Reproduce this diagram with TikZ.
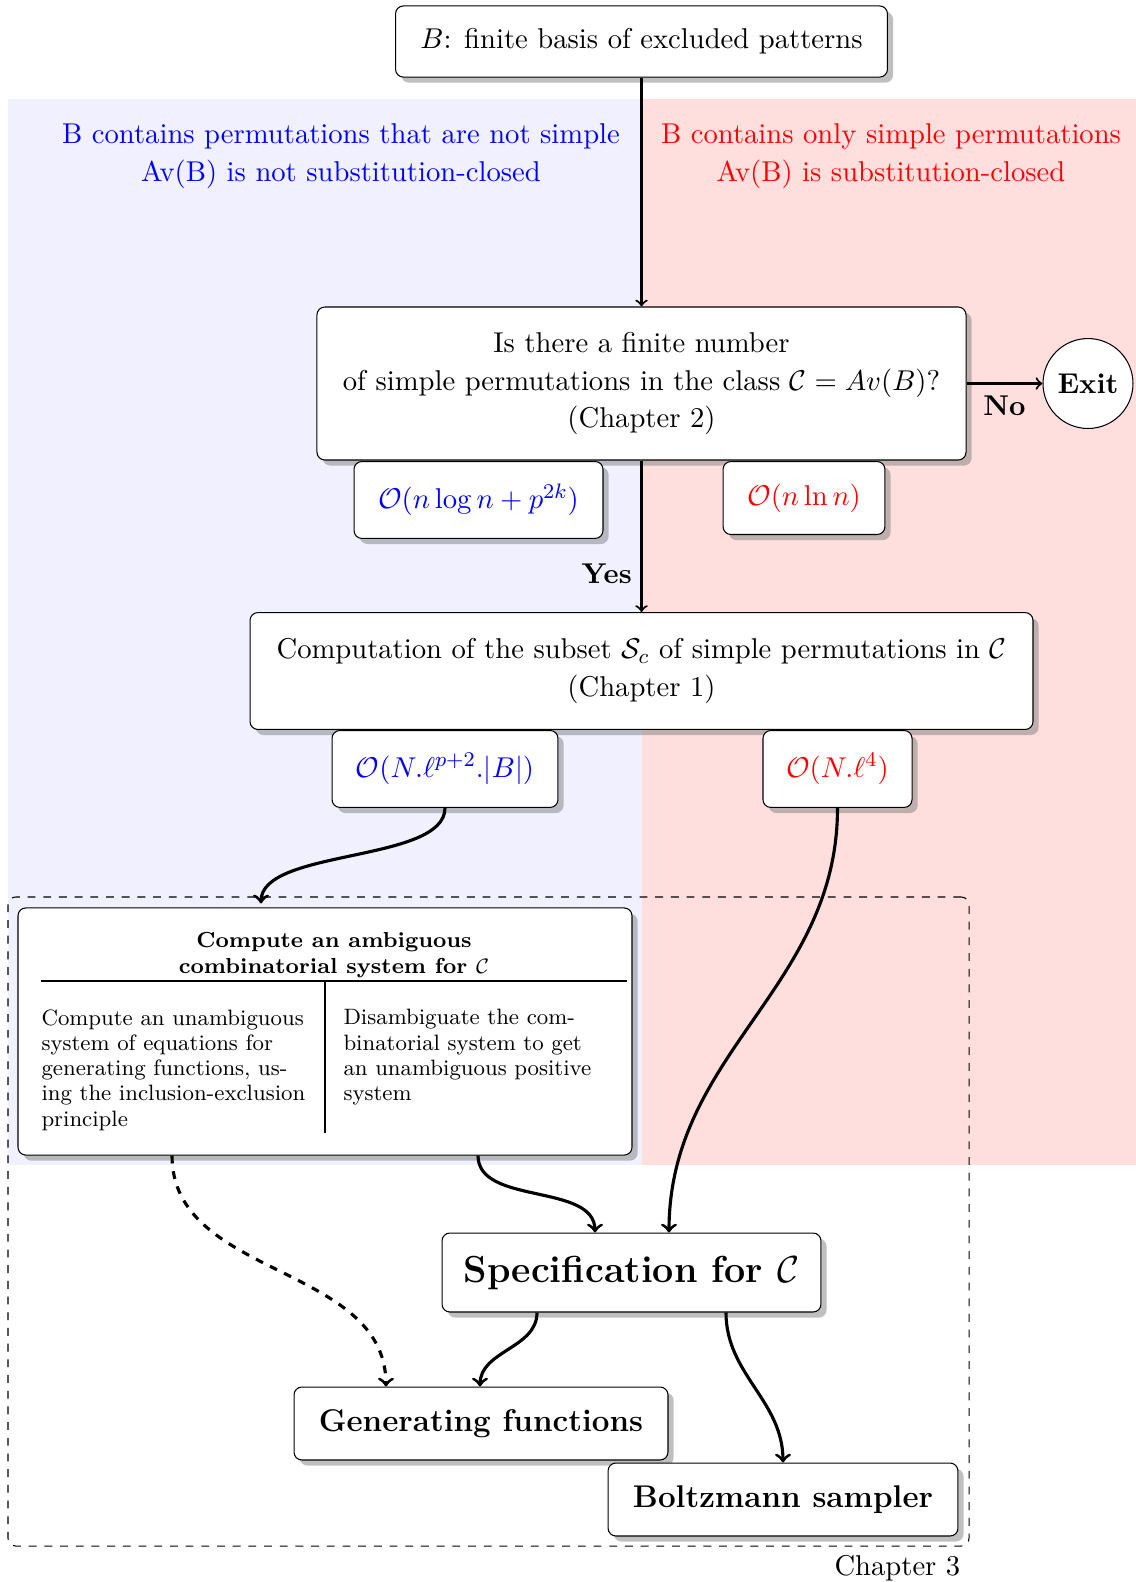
\documentclass[tikz,border=0pt]{standalone}
\usetikzlibrary{shadows,calc}
\begin{document}
\begin{tikzpicture}[x=0.3824pt,y=-0.3824pt,
  every node/.style={font=\fontsize{10.95}{14.3}\selectfont},
  box/.style={draw, fill=white, rounded corners=3pt, drop shadow, inner sep=0pt, align=center},
  arr/.style={->, thick},
  carr/.style={->, very thick},
  body/.style={font=\fontsize{8.5}{9.65}\selectfont, align=left, anchor=north west, inner sep=0pt},
  lbl/.style={font=\fontsize{10.95}{14.3}\selectfont\bfseries}]
\useasboundingbox (0,0) rectangle (1136,1582);
% backgrounds
\fill[blue!6] (8,99) rectangle (642,1165);
\fill[red!13] (642,99) rectangle (1136,1165);
% chapter 3 frame
\node[draw, dashed, rounded corners=3pt, minimum width=367.5pt, minimum height=248.2pt, inner sep=0pt] (frame) at (488.5,1221.5) {};
\node[anchor=north east] (ch3) at (frame.south east) {Chapter 3};
% header texts
\node[text=blue, align=center] (hb) at (341,156) {B contains permutations that are not simple\\Av(B) is not substitution-closed};
\node[text=red, align=center] (hr) at (891,156) {B contains only simple permutations\\Av(B) is substitution-closed};
% boxes
\node[box, minimum width=188.1pt, minimum height=27.2pt] (top) at (641.5,41.5) {$B$: finite basis of excluded patterns};
\node[box, minimum width=248.2pt, minimum height=58.5pt] (q) at (641.5,383.5) {Is there a finite number\\of simple permutations in the class $\mathcal{C}=Av(B)$?\\(Chapter 2)};
\node[draw, circle, fill=white, minimum size=34.4pt, inner sep=0pt, lbl] (exit) at (1088,383.5) {Exit};
\node[box, anchor=north, minimum width=95.2pt, minimum height=29.4pt, text=blue] (obl) at (478.5,461) {$\mathcal{O}(n\log n+p^{2k})$};
\node[box, anchor=north, minimum width=61.9pt, minimum height=27.9pt, text=red] (ored) at (804,461) {$\mathcal{O}(n\ln n)$};
\node[box, minimum width=299.4pt, minimum height=44.7pt] (comp) at (641.5,671) {Computation of the subset $\mathcal{S}_c$ of simple permutations in $\mathcal{C}$\\(Chapter 1)};
\node[box, anchor=north, minimum width=86.4pt, minimum height=29.4pt, text=blue] (obl2) at (445,730) {$\mathcal{O}(N.\ell^{p+2}.|B|)$};
\node[box, anchor=north, minimum width=57.0pt, minimum height=29.4pt, text=red] (ored2) at (837.5,730) {$\mathcal{O}(N.\ell^{4})$};
% big box
\node[box, minimum width=234.8pt, minimum height=94.5pt] (big) at (325,1031.5) {};
\node[font=\fontsize{8.3}{10.2}\selectfont\bfseries, align=center] (bigt) at (334,955) {Compute an ambiguous\\combinatorial system for $\mathcal{C}$};
\draw (41,981) -- (627,981);
\draw (325,981) -- (325,1133);
\node[body] (bigl) at (41,1009) {Compute an unambiguous\\system of equations for\\generating functions, us-\\ing the inclusion-exclusion\\principle};
\node[body] (bigr) at (343,1009) {Disambiguate the com-\\binatorial system to get\\an unambiguous positive\\system};
% lower boxes
\node[box, minimum width=144.9pt, minimum height=30.2pt, font=\fontsize{14.4}{17}\selectfont\bfseries] (spec) at (631.5,1272.5) {Specification for $\mathcal{C}$};
\node[box, minimum width=143.0pt, minimum height=27.9pt, font=\fontsize{12}{14}\selectfont\bfseries] (gen) at (481,1423.5) {Generating functions};
\node[box, minimum width=133.8pt, minimum height=27.9pt, font=\fontsize{12}{14}\selectfont\bfseries] (boltz) at (783,1499.5) {Boltzmann sampler};
% connectors
\draw[arr] (top.south) -- (q.north);
\draw[arr] (q.east) -- node[below, lbl, yshift=-1pt] {No} (exit.west);
\draw[arr] (q.south) -- node[pos=0.75, left, lbl] {Yes} (comp.north);
\draw[carr] (obl2.south) .. controls +(0,55) and +(0,-55) .. ($(big.north)+(-64,-4)$);
\draw[carr] (ored2.south) .. controls +(0,180) and +(0,-180) .. ($(spec.north)+(37.5,0)$);
\draw[carr] ($(big.south)+(153,0)$) .. controls +(0,50) and +(0,-50) .. ($(spec.north)+(-36.5,0)$);
\draw[carr, dashed] ($(big.south)+(-153,0)$) .. controls +(0,123) and +(0,-123) .. ($(gen.north)+(-95,0)$);
\draw[carr] ($(spec.south)+(-94.5,0)$) .. controls +(0,36) and +(0,-36) .. ($(gen.north)+(-1,0)$);
\draw[carr] ($(spec.south)+(94.5,0)$) .. controls +(0,62) and +(0,-62) .. (boltz.north);
\end{tikzpicture}
\end{document}
